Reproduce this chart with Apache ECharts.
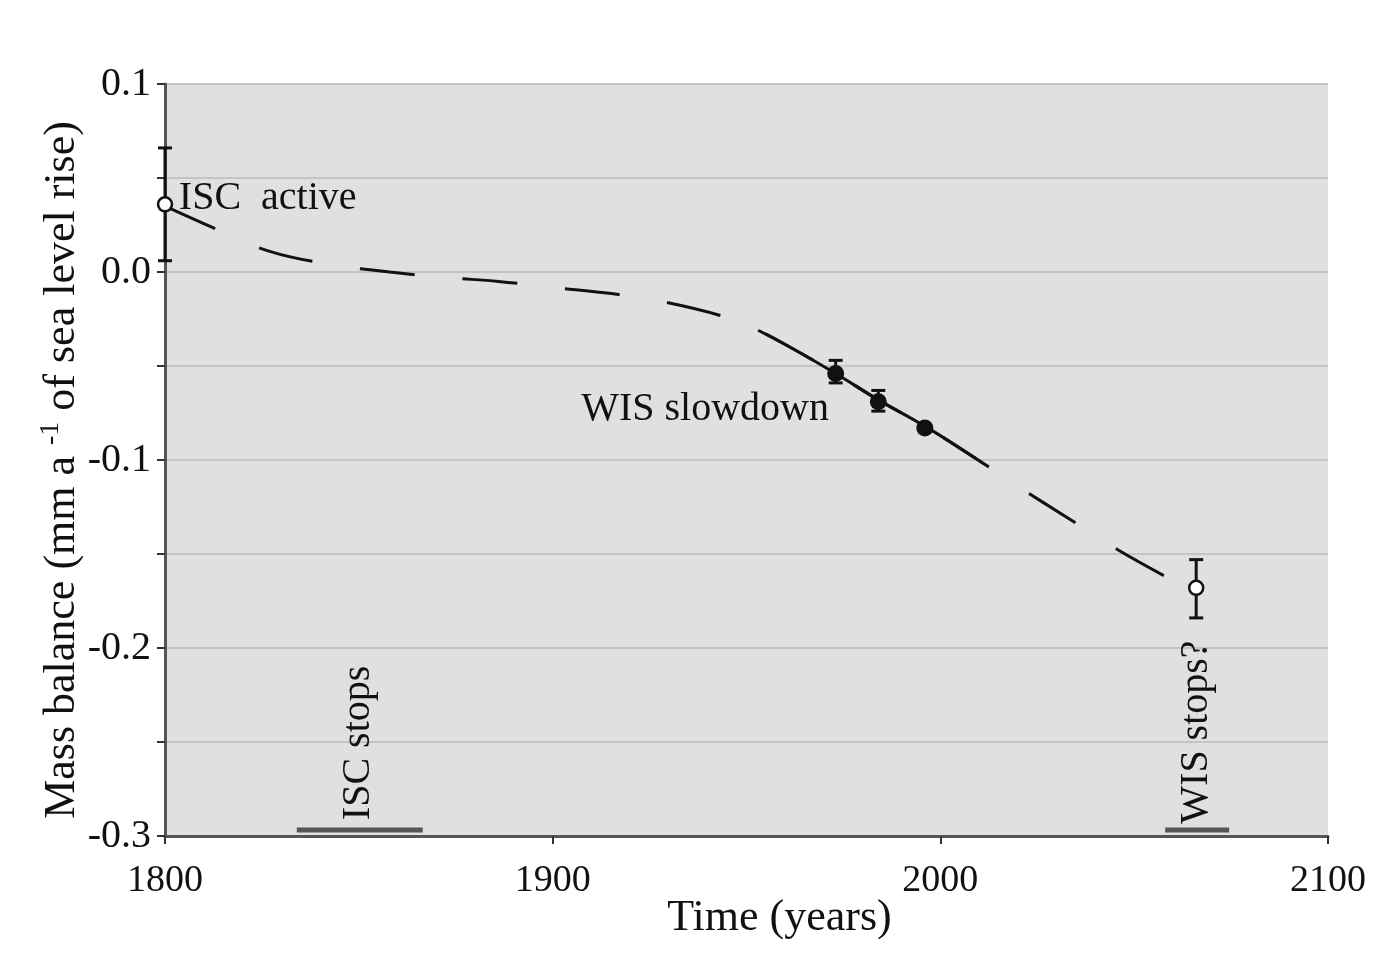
<!DOCTYPE html>
<html>
<head>
<meta charset="utf-8">
<script src="https://cdn.jsdelivr.net/npm/echarts@6/dist/echarts.min.js"></script>
<style>
html,body{margin:0;padding:0;background:#fff;}
#chart{width:1400px;height:968px;}
</style>
</head>
<body>
<div id="chart"></div>
<script>
// Model curve (mass balance, mm/a sea level equivalent)
const curveYears  = [1800, 1813, 1827, 1843, 1858, 1873, 1886, 1899, 1917, 1929, 1943, 1953, 1963, 1973, 1984, 1996, 2009, 2020, 2033, 2046, 2059];
const curveValues = [0.035, 0.023, 0.011, 0.004, 0.000, -0.003, -0.005, -0.008, -0.012, -0.016, -0.023, -0.031, -0.042, -0.054, -0.068, -0.082, -0.099, -0.114, -0.131, -0.148, -0.163];
// solid (observed) part of the curve
const solidYears  = [1953, 1963, 1973, 1984, 1996, 2009];
const solidValues = [-0.031, -0.042, -0.054, -0.068, -0.082, -0.099];

// Observations (filled) and estimates (open)
const obsYears   = [1973, 1984, 1996];
const obsValues  = [-0.054, -0.069, -0.083];
const obsLow     = [-0.059, -0.074, -0.085];
const obsHigh    = [-0.047, -0.063, -0.081];
const estYears   = [1800, 2066];
const estValues  = [0.036, -0.168];
const estLow     = [0.006, -0.184];
const estHigh    = [0.066, -0.153];

// Stop-period bars
const iscStopStart = 1834, iscStopEnd = 1866.5;
const wisStopStart = 2058, wisStopEnd = 2074.5;
const stopLevel = -0.2968;

// Annotations
const annoTexts  = ['ISC  active', 'WIS slowdown', 'ISC stops', 'WIS stops?'];
const annoYears  = [1826.5, 1939.3, 1849.8, 2066.2];
const annoValues = [0.039, -0.0729, -0.2505, -0.2447];
const annoRotate = [0, 0, 90, 90];

const FONT = '"Liberation Serif", "Times New Roman", serif';
const TXT = '#111111';

const errData = [];
obsYears.forEach((y, i) => errData.push([y, obsLow[i], obsHigh[i]]));
estYears.forEach((y, i) => errData.push([y, estLow[i], estHigh[i]]));

const chart = echarts.init(document.getElementById('chart'));
chart.setOption({
  animation: false,
  backgroundColor: '#ffffff',
  grid: {left: 165, right: 72, top: 84, bottom: 132, show: true, backgroundColor: '#e0e0e0', borderWidth: 0},
  xAxis: {
    type: 'value', min: 1800, max: 2100, interval: 100,
    name: 'Time (years)', nameLocation: 'middle', nameGap: 82, nameMoveOverlap: false,
    nameTextStyle: {fontFamily: FONT, fontSize: 44, color: TXT, align: 'center', verticalAlign: 'middle', padding: [0, 0, 0, 66]},
    axisLine: {show: true, onZero: false, lineStyle: {color: '#555', width: 3}},
    axisTick: {show: true, length: 8, lineStyle: {color: '#333', width: 2}},
    axisLabel: {fontFamily: FONT, fontSize: 38, color: TXT, margin: 26, formatter: v => String(v)},
    splitLine: {show: false}
  },
  yAxis: {
    type: 'value', min: -0.3, max: 0.1, interval: 0.05,
    name: 'Mass balance (mm a {sup|-1} of sea level rise)',
    nameLocation: 'middle', nameRotate: 90, nameGap: 103, nameMoveOverlap: false,
    nameTextStyle: {fontFamily: FONT, fontSize: 44, color: TXT, align: 'center', verticalAlign: 'middle', padding: [0, 20, 0, 0],
      rich: {sup: {fontFamily: FONT, fontSize: 28, color: TXT, verticalAlign: 'top', padding: [0, 0, 22, 0]}}},
    axisLine: {show: true, onZero: false, lineStyle: {color: '#555', width: 3}},
    axisTick: {show: true, length: 8, lineStyle: {color: '#333', width: 2}},
    axisLabel: {fontFamily: FONT, fontSize: 40, color: TXT, margin: 14,
      formatter: v => {
        const t = v * 10;
        if (Math.abs(t - Math.round(t)) > 1e-6) return '';
        const r = Math.round(t) / 10;
        return r === 0 ? '0.0' : r.toFixed(1);
      }},
    splitLine: {show: true, lineStyle: {color: '#c4c4c4', width: 2}}
  },
  series: [
    {
      type: 'line', data: curveYears.map((y, i) => [y, curveValues[i]]),
      smooth: 0.4, showSymbol: false, silent: true,
      lineStyle: {color: '#111', width: 3, type: [55, 48]}
    },
    {
      type: 'line', data: solidYears.map((y, i) => [y, solidValues[i]]),
      smooth: 0.4, showSymbol: false, silent: true,
      lineStyle: {color: '#111', width: 3}
    },
    {
      type: 'line', data: [[iscStopStart, stopLevel], [iscStopEnd, stopLevel]],
      showSymbol: false, lineStyle: {color: '#555', width: 5}
    },
    {
      type: 'line', data: [[wisStopStart, stopLevel], [wisStopEnd, stopLevel]],
      showSymbol: false, lineStyle: {color: '#555', width: 5}
    },
    {
      type: 'custom', data: errData, z: 5,
      renderItem: (params, api) => {
        const x = api.value(0);
        const lo = api.coord([x, api.value(1)]);
        const hi = api.coord([x, api.value(2)]);
        const cw = 7;
        const st = {stroke: '#111', lineWidth: 3};
        return {type: 'group', children: [
          {type: 'line', shape: {x1: lo[0], y1: lo[1], x2: hi[0], y2: hi[1]}, style: st},
          {type: 'line', shape: {x1: lo[0] - cw, y1: lo[1], x2: lo[0] + cw, y2: lo[1]}, style: st},
          {type: 'line', shape: {x1: hi[0] - cw, y1: hi[1], x2: hi[0] + cw, y2: hi[1]}, style: st}
        ]};
      }
    },
    {
      type: 'scatter', data: obsYears.map((y, i) => [y, obsValues[i]]), z: 6,
      symbol: 'circle', symbolSize: 17, itemStyle: {color: '#111', opacity: 1}
    },
    {
      type: 'scatter', data: estYears.map((y, i) => [y, estValues[i]]), z: 6,
      symbol: 'circle', symbolSize: 14, itemStyle: {color: '#fff', borderColor: '#111', borderWidth: 2.5, opacity: 1}
    },
    {
      type: 'scatter', z: 7, symbolSize: 0, silent: true, itemStyle: {opacity: 1},
      data: annoTexts.map((t, i) => ({
        value: [annoYears[i], annoValues[i]],
        label: {show: true, formatter: t, rotate: annoRotate[i], position: 'inside',
          align: 'center', verticalAlign: 'middle',
          fontFamily: FONT, fontSize: 40, color: TXT}
      }))
    }
  ]
});
</script>
</body>
</html>
